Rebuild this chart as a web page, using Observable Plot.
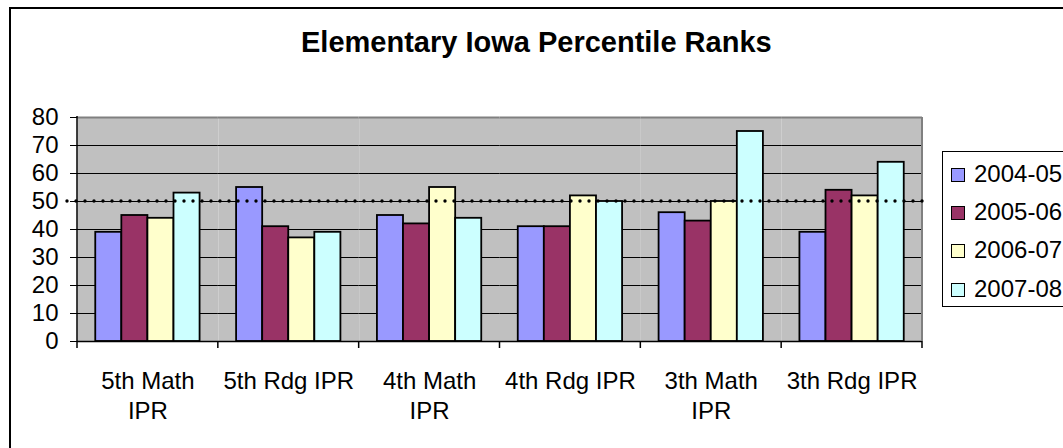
<!DOCTYPE html>
<html>
<head>
<meta charset="utf-8">
<script src="https://cdn.jsdelivr.net/npm/d3@7"></script>
<script src="https://cdn.jsdelivr.net/npm/@observablehq/plot@0.6"></script>
<style>
  html, body { margin: 0; padding: 0; background: #fff; }
  #wrap { position: relative; width: 1063px; height: 448px; overflow: hidden; font-family: "Liberation Sans", Arial, sans-serif; }
  #border { position: absolute; left: 9px; top: 7px; width: 1200px; height: 600px; border: 2px solid #000; box-sizing: border-box; }
  #title { position: absolute; left: 301px; top: 28px; font-size: 29px; line-height: 29px; font-weight: bold; white-space: nowrap; color: #000; }
  #chart { position: absolute; left: 0; top: 100px; }
  #legend { position: absolute; left: 942px; top: 151px; width: 200px; height: 156px; border: 1px solid #000; box-sizing: border-box; background: #fff; }
  .item { position: absolute; left: 8px; height: 30px; font-size: 24px; line-height: 30px; white-space: nowrap; color: #000; }
  .sw { display: inline-block; width: 12px; height: 12px; border: 1px solid #000; margin-right: 9px; vertical-align: 0px; }
</style>
</head>
<body>
<div id="wrap">
  <div id="border"></div>
  <div id="title">Elementary Iowa Percentile Ranks</div>
  <div id="chart"></div>
  <div id="legend"></div>
</div>
<script>
const categories = ["5th Math IPR", "5th Rdg IPR", "4th Math IPR", "4th Rdg IPR", "3th Math IPR", "3th Rdg IPR"];
const tickLabels = ["5th Math\nIPR", "5th Rdg IPR", "4th Math\nIPR", "4th Rdg IPR", "3th Math\nIPR", "3th Rdg IPR"];
const seriesNames = ["2004-05", "2005-06", "2006-07", "2007-08"];
const values2004 = [39, 55, 45, 41, 46, 39];
const values2005 = [45, 41, 42, 41, 43, 54];
const values2006 = [44, 37, 55, 52, 50, 52];
const values2007 = [53, 39, 44, 50, 75, 64];
const seriesColors = ["#9999FF", "#993366", "#FFFFCC", "#CCFFFF"];
const yTicks = [0, 10, 20, 30, 40, 50, 60, 70, 80];
const benchmark = 50;

const seriesValues = [values2004, values2005, values2006, values2007];
const rows = categories.flatMap((c, i) =>
  seriesNames.map((s, j) => ({category: c, series: s, value: seriesValues[j][i]}))
);
const labelOf = new Map(categories.map((c, i) => [c, tickLabels[i]]));

const chart = Plot.plot({
  width: 935,
  height: 348,
  marginLeft: 77,
  marginRight: 13,
  marginTop: 17,
  marginBottom: 107,
  style: {fontFamily: "'Liberation Sans', Arial, sans-serif", fontSize: "24px", color: "#000", background: "transparent", overflow: "visible"},
  fx: {domain: categories, padding: 0, round: false, axis: null, label: null},
  x: {domain: seriesNames, paddingInner: 0, paddingOuter: 0.7, round: false, axis: null},
  y: {domain: [0, 80], axis: null},
  color: {domain: seriesNames, range: seriesColors},
  marks: [
    Plot.frame({fill: "#C0C0C0", stroke: null}),
    Plot.gridY(yTicks.filter(t => t > 0 && t < 80), {stroke: "#000", strokeOpacity: 1, strokeWidth: 1}),
    Plot.ruleY([80], {stroke: "#808080", strokeWidth: 2}),
    Plot.barY(rows, {fx: "category", x: "series", y: "value", fill: "series", stroke: "#000", strokeWidth: 1.8}),
    Plot.ruleY([0], {stroke: "#000", strokeWidth: 1.5}),
    Plot.axisY({ticks: yTicks, tickSize: 7, tickPadding: 12, fontSize: 24, label: null, facetAnchor: "left", tickFormat: d => String(d)}),
    Plot.axisFx({anchor: "bottom", tickSize: 0, tickPadding: 26, fontSize: 24, lineHeight: 1.25, label: null, tickFormat: d => labelOf.get(d)})
  ]
});
document.getElementById("chart").appendChild(chart);

// plot-area edges, benchmark line and category boundary ticks, from the library's scales
const fxS = chart.scale("fx");
const yS = chart.scale("y");
const lefts = categories.map(c => fxS.apply(c));
const bw = fxS.bandwidth;
const bounds = [...lefts, lefts[lefts.length - 1] + bw];
const y0 = yS.apply(0), y80 = yS.apply(80), yB = yS.apply(benchmark);
const xL = bounds[0], xR = bounds[bounds.length - 1];
const g = d3.select(chart).append("g");
g.append("line").attr("x1", xR).attr("x2", xR)
  .attr("y1", y80).attr("y2", y0).attr("stroke", "#808080").attr("stroke-width", 2);
g.append("line").attr("x1", xL).attr("x2", xL)
  .attr("y1", y80 - 1).attr("y2", y0).attr("stroke", "#000").attr("stroke-width", 1.5);
g.selectAll("line.bt").data(bounds).join("line").attr("class", "bt")
  .attr("x1", d => d).attr("x2", d => d).attr("y1", y0).attr("y2", y0 + 7)
  .attr("stroke", "#000").attr("stroke-width", 1.5);
g.append("line").attr("x1", xL - 10).attr("x2", xR + 6).attr("y1", yB).attr("y2", yB)
  .attr("stroke", "#000").attr("stroke-width", 3.4).attr("stroke-dasharray", "0 9")
  .attr("stroke-linecap", "round");

// legend
const legend = d3.select("#legend");
const rowTops = [7, 45, 83, 122];
seriesNames.forEach((s, i) => {
  const it = legend.append("div").attr("class", "item").style("top", rowTops[i] + "px");
  it.append("span").attr("class", "sw").style("background", seriesColors[i]);
  it.append("span").text(s);
});
</script>
</body>
</html>
